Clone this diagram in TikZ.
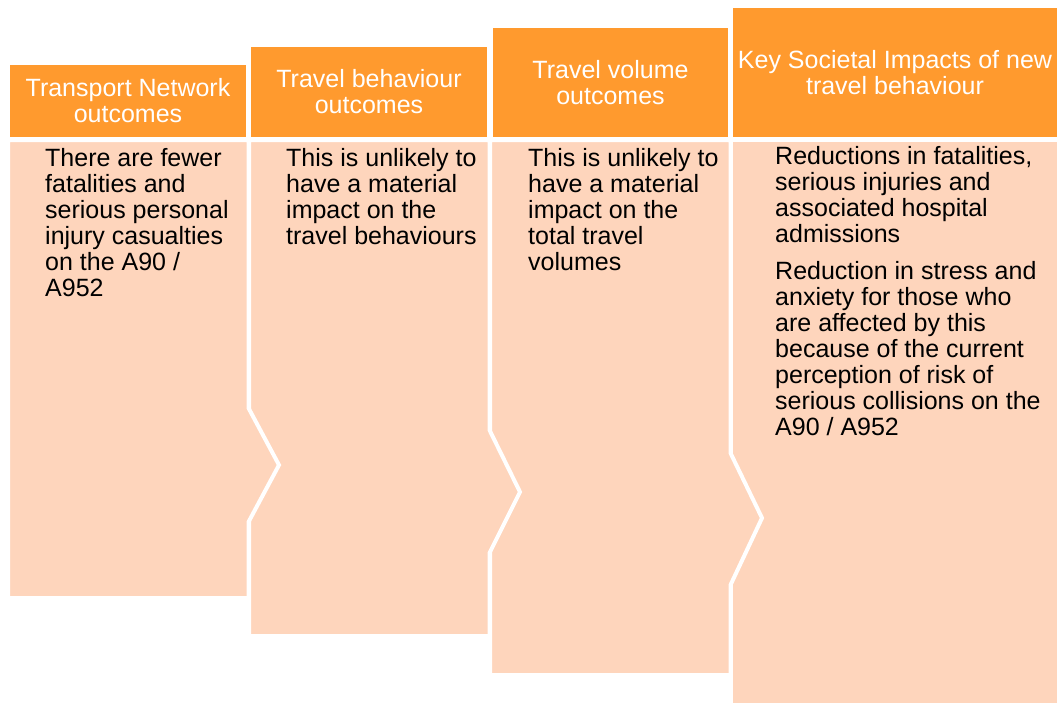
\documentclass[tikz,border=0pt]{standalone}
\usepackage{fontspec}
\setmainfont{Liberation Sans}
\definecolor{hdrorange}{HTML}{FF9A2E}
\definecolor{bodypeach}{HTML}{FED5BC}

\begin{document}
\begin{tikzpicture}[x=1pt, y=-1pt,
    hdr/.style={fill=hdrorange, text=white, inner sep=0pt, align=center,
                font=\fontsize{25}{26}\selectfont},
    bodytxt/.style={anchor=north west, inner sep=0pt, align=left,
                    font=\fontsize{25}{26}\selectfont},
    panel/.style={fill=bodypeach, draw=white, line width=4pt, line join=miter}]
  \useasboundingbox (0,0) rectangle (1057,702);
  % body panels, right to left so each tip lies over the next panel
  \draw[panel] (731,140) -- (1059,140) -- (1059,712) -- (731,712) -- cycle;
  \draw[panel] (490,140) -- (730.5,140) -- (730.5,453) -- (762,518)
               -- (730.5,585) -- (730.5,675) -- (490,675) -- cycle;
  \draw[panel] (249,140) -- (489.5,140) -- (489.5,430) -- (520,492)
               -- (489.5,553) -- (489.5,636) -- (249,636) -- cycle;
  \draw[panel] (8,140) -- (248.5,140) -- (248.5,408) -- (279,465)
               -- (248.5,522) -- (248.5,598) -- (8,598) -- cycle;
  % headers
  \node[hdr, minimum width=236pt, minimum height=72pt] (hnet) at (128,101)
       {Transport Network\\outcomes};
  \node[hdr, minimum width=236pt, minimum height=90pt] (hbeh) at (369,92)
       {Travel behaviour\\outcomes};
  \node[hdr, minimum width=235pt, minimum height=109pt] (hvol) at (610.5,82.5)
       {Travel volume\\outcomes};
  \node[hdr, minimum width=324pt, minimum height=129pt] (himp) at (895,72.5)
       {Key Societal Impacts of new\\travel behaviour};
  % body texts
  \node[bodytxt] (tnet) at (45,148)
       {There are fewer\\fatalities and\\serious personal\\injury casualties\\on the A90 /\\A952};
  \node[bodytxt] (tbeh) at (286,148)
       {This is unlikely to\\have a material\\impact on the\\travel behaviours};
  \node[bodytxt] (tvol) at (528,148)
       {This is unlikely to\\have a material\\impact on the\\total travel\\volumes};
  \node[bodytxt] (timp) at (775,146)
       {Reductions in fatalities,\\serious injuries and\\associated hospital\\admissions\\[11pt]%
        Reduction in stress and\\anxiety for those who\\are affected by this\\because of the current\\perception of risk of\\serious collisions on the\\A90 / A952};
\end{tikzpicture}
\end{document}
